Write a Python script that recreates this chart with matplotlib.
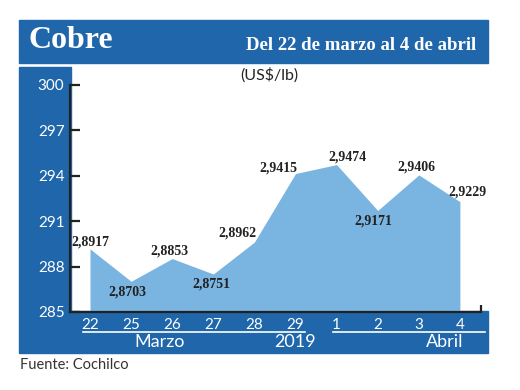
import matplotlib.pyplot as plt
from matplotlib.patches import Rectangle
from matplotlib.lines import Line2D

# datos: precio del cobre (US$/lb), del 22 de marzo al 4 de abril 2019
dias = ["22", "25", "26", "27", "28", "29", "1", "2", "3", "4"]
precios = [2.8917, 2.8703, 2.8853, 2.8751, 2.8962, 2.9415, 2.9474, 2.9171, 2.9406, 2.9229]
etiquetas = ["2,8917", "2,8703", "2,8853", "2,8751", "2,8962",
             "2,9415", "2,9474", "2,9171", "2,9406", "2,9229"]
y_ticks = [285, 288, 291, 294, 297, 300]
meses = ["Marzo", "2019", "Abril"]

AZUL = "#1f66aa"
AREA = "#7ab4e0"
W, H = 520, 390


def fx(px):
    return px / W


def fy(py):
    return 1 - py / H


fig = plt.figure(figsize=(5.2, 3.9), dpi=100)

# fondos azules (banner, panel izquierdo, banda inferior)
for x0, y0, x1, y1 in [(19, 20, 488, 63), (19, 67, 71, 311), (19, 311, 488, 353)]:
    fig.patches.append(Rectangle((fx(x0), fy(y1)), fx(x1) - fx(x0), fy(y0) - fy(y1),
                                 transform=fig.transFigure, color=AZUL, zorder=-1))

ax = fig.add_axes([fx(70), fy(312), fx(488) - fx(70), fy(67) - fy(312)])
ax.patch.set_alpha(0)

valores = [p * 100 for p in precios]
x = list(range(len(dias)))
ax.fill_between(x, 285, valores, color=AREA, lw=0, zorder=1)

# escala: indice 0 -> px 90, paso 41.1 px; 300 -> px 85, 285 -> px 312
paso = 41.1
ax.set_xlim((70 - 90) / paso, (488 - 90) / paso)
esc = 15 / (312 - 85)
ax.set_ylim(285, 300 + (85 - 67) * esc)

offsets = [(0, 7), (-4, -11), (-3, 8), (-2, -10), (-17, 9),
           (-17, 6), (11, 8), (-4, -11), (-2, 8), (8, 10)]
for xi, v, lab, off in zip(x, valores, etiquetas, offsets):
    ax.annotate(lab, (xi, v), xytext=off, textcoords="offset pixels",
                ha="center", va="center", fontsize=10,
                family=["Liberation Serif", "DejaVu Serif"],
                fontweight="bold", color="#222222", zorder=5)

for s in ["top", "right"]:
    ax.spines[s].set_visible(False)
ax.spines["left"].set_bounds(285, 300)
ax.spines["left"].set_linewidth(1.6)
ax.spines["left"].set_color("#222222")
ax.spines["bottom"].set_bounds(ax.get_xlim()[0], (481 - 90) / paso)
ax.spines["bottom"].set_linewidth(1.6)
ax.spines["bottom"].set_color("#222222")
ax.spines["bottom"].set_zorder(3)

ax.set_yticks(y_ticks)
ax.set_yticklabels([str(t) for t in y_ticks])
ax.tick_params(axis="y", direction="in", length=7, width=1.6, color="#222222",
               labelcolor="white", labelsize=11, pad=4)
for t in ax.get_yticklabels():
    t.set_family(["Lato", "DejaVu Sans"])

ax.set_xticks(x)
ax.set_xticklabels(dias)
ax.tick_params(axis="x", length=0, labelcolor="white", labelsize=11, pad=4)
for t in ax.get_xticklabels():
    t.set_family(["Lato", "DejaVu Sans"])
ax.set_xticks([(481 - 90) / paso], minor=True)
ax.tick_params(axis="x", which="minor", direction="in", length=5, width=1.6,
               color="#222222")

# subrayados y nombres de meses
fig.lines.append(Line2D([fx(83), fx(305)], [fy(331.5), fy(331.5)],
                        transform=fig.transFigure, color="white", lw=1.2))
fig.lines.append(Line2D([fx(333), fx(485)], [fy(331.5), fy(331.5)],
                        transform=fig.transFigure, color="white", lw=1.2))
for m, px in zip(meses, [160, 295, 445]):
    fig.text(fx(px), fy(342), m, ha="center", va="center", color="white",
             fontsize=13, family=["Lato", "DejaVu Sans"])

fig.text(fx(28), fy(40), "Cobre", ha="left", va="center", color="white",
         fontsize=23, fontweight="bold", family=["Liberation Serif", "DejaVu Serif"])
fig.text(fx(476), fy(45), "Del 22 de marzo al 4 de abril", ha="right", va="center",
         color="white", fontsize=13.5, fontweight="bold",
         family=["Liberation Serif", "DejaVu Serif"])
fig.text(fx(240), fy(75), "(US$/lb)", ha="left", va="center", color="#222222",
         fontsize=11.5, family=["Lato", "DejaVu Sans"])
fig.text(fx(20), fy(365), "Fuente: Cochilco", ha="left", va="center", color="#333333",
         fontsize=10.5, family=["Lato", "DejaVu Sans"])

fig.savefig("out.png", dpi=100)
